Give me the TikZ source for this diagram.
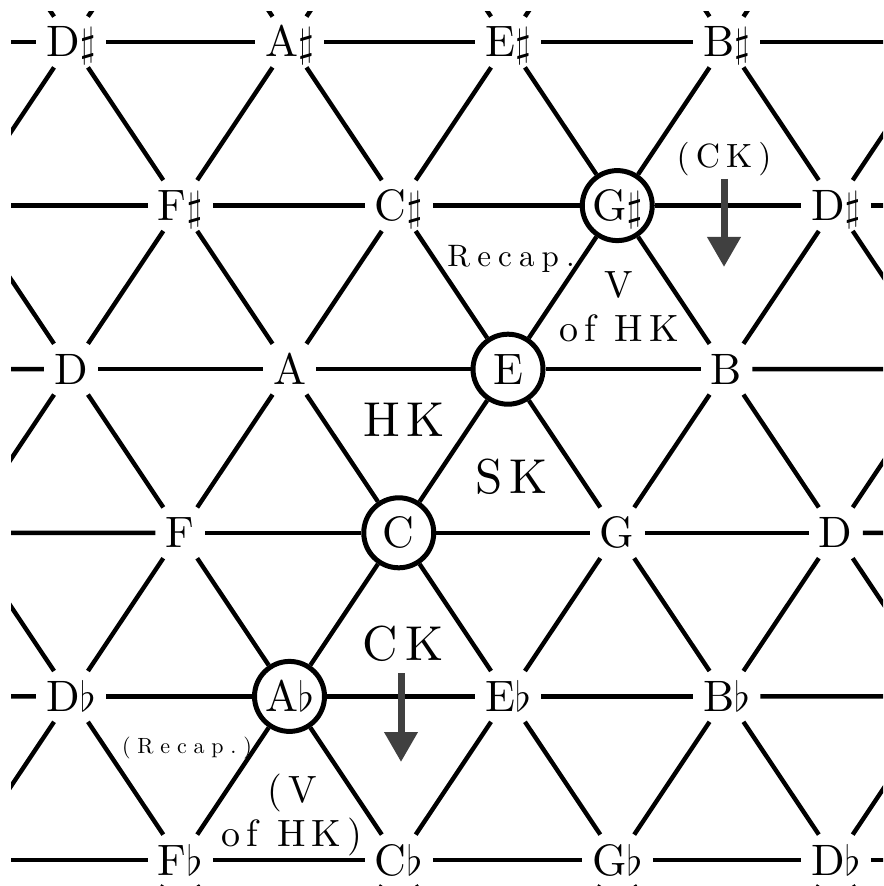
\documentclass[tikz,border=0pt]{standalone}
\usepackage{fontspec}
\setmainfont{lmroman10-regular.otf}
\usetikzlibrary{arrows.meta}

\tikzset{
  note/.style={inner xsep=5pt, inner ysep=5pt, text height=15pt, text depth=0pt,
    font=\fontsize{22}{26}\selectfont},
  keynote/.style={note, circle, draw, line width=2.5pt, inner sep=0pt, minimum size=35pt},
  gridline/.style={line width=2.2pt},
  bigtag/.style={font=\fontsize{24.5}{28}\selectfont\addfontfeatures{LetterSpace=14}, inner sep=0pt, anchor=base},
  midtag/.style={font=\fontsize{19}{22}\selectfont\addfontfeatures{LetterSpace=16}, align=center},
  ckarrow/.style={draw=black!75, line width=3.5pt, -{Triangle[width=16pt,length=15pt]}},
}

\begin{document}
\begin{tikzpicture}[x=0.5pt, y=-0.5pt]
	\fill[white] (0,0) rectangle (883,886);
	% lattice points that fall outside the frame
	\foreach \r in {-1,...,6}
		\foreach \c in {-1,4}
			{\pgfmathsetmacro\px{71+218.5*\c+109.25*mod(abs(\r),2)}
			 \pgfmathsetmacro\py{42+163.6*\r}
			 \coordinate (n-\r-\c) at (\px,\py);}
	\foreach \r in {-1,6}
		\foreach \c in {0,...,3}
			{\pgfmathsetmacro\px{71+218.5*\c+109.25*mod(abs(\r),2)}
			 \pgfmathsetmacro\py{42+163.6*\r}
			 \coordinate (n-\r-\c) at (\px,\py);}
	% the notes
	\node[note] (n-0-0) at (71,42) {D$\sharp$};
	\node[note] (n-0-1) at (289.5,42) {A$\sharp$};
	\node[note] (n-0-2) at (508,42) {E$\sharp$};
	\node[note] (n-0-3) at (726.5,42) {B$\sharp$};
	\node[note] (n-1-0) at (180.25,205.6) {F$\sharp$};
	\node[note] (n-1-1) at (398.75,205.6) {C$\sharp$};
	\node[keynote] (n-1-2) at (617.25,205.6) {G$\sharp$};
	\node[note] (n-1-3) at (835.75,205.6) {D$\sharp$};
	\node[note] (n-2-0) at (71,369.2) {D};
	\node[note] (n-2-1) at (289.5,369.2) {A};
	\node[keynote] (n-2-2) at (508,369.2) {E};
	\node[note] (n-2-3) at (726.5,369.2) {B};
	\node[note] (n-3-0) at (180.25,532.8) {F};
	\node[keynote] (n-3-1) at (398.75,532.8) {C};
	\node[note] (n-3-2) at (617.25,532.8) {G};
	\node[note] (n-3-3) at (835.75,532.8) {D};
	\node[note] (n-4-0) at (71,696.4) {D$\flat$};
	\node[keynote] (n-4-1) at (289.5,696.4) {A$\flat$};
	\node[note] (n-4-2) at (508,696.4) {E$\flat$};
	\node[note] (n-4-3) at (726.5,696.4) {B$\flat$};
	\node[note] (n-5-0) at (180.25,860) {F$\flat$};
	\node[note] (n-5-1) at (398.75,860) {C$\flat$};
	\node[note] (n-5-2) at (617.25,860) {G$\flat$};
	\node[note] (n-5-3) at (835.75,860) {D$\flat$};
	% lattice lines
	\begin{scope}
		\clip (11,12) rectangle (883,886);
		\foreach \r in {0,...,5}
			\foreach \c/\nc in {-1/0,0/1,1/2,2/3,3/4}
				\draw[gridline] (n-\r-\c) -- (n-\r-\nc);
		\foreach \r/\nr in {-1/0,0/1,1/2,2/3,3/4,4/5,5/6}
			\foreach \c in {-1,...,4}
				\draw[gridline] (n-\r-\c) -- (n-\nr-\c);
		\foreach \r/\nr in {0/1,2/3,4/5}
			\foreach \c/\nc in {0/-1,1/0,2/1,3/2,4/3}
				\draw[gridline] (n-\r-\c) -- (n-\nr-\nc);
		\foreach \r/\nr in {-1/0,1/2,3/4,5/6}
			\foreach \c/\nc in {-1/0,0/1,1/2,2/3,3/4}
				\draw[gridline] (n-\r-\c) -- (n-\nr-\nc);
	\end{scope}
	% keys and labels
	\node[bigtag] (hk) at (404,437) {HK};
	\node[bigtag] (sk) at (512,493) {SK};
	\node[bigtag] (ck) at (403,660) {CK};
	\node[midtag] (vhk) at (619,307) {V\\of HK};
	\node[midtag] (vhk low) at (292,815) {(V\\of HK)};
	\node[anchor=base, font=\fontsize{15.5}{18}\selectfont\addfontfeatures{LetterSpace=23}] (recap) at (511,267) {Recap.};
	\node[anchor=base, font=\fontsize{11}{13}\selectfont\addfontfeatures{LetterSpace=31}] (recap low) at (187,753) {(Recap.)};
	\node[anchor=base, inner sep=0pt, font=\fontsize{16.8}{20}\selectfont\addfontfeatures{LetterSpace=18}] (ck up) at (724,168) {(CK)};
	\coordinate (ck tip) at (401,762);
	\coordinate (ck up tip) at (724,267);
	\draw[ckarrow, shorten <=6pt] (ck.south -| ck tip) -- (ck tip);
	\draw[ckarrow, shorten <=1pt] (ck up.south -| ck up tip) -- (ck up tip);
\end{tikzpicture}
\end{document}
